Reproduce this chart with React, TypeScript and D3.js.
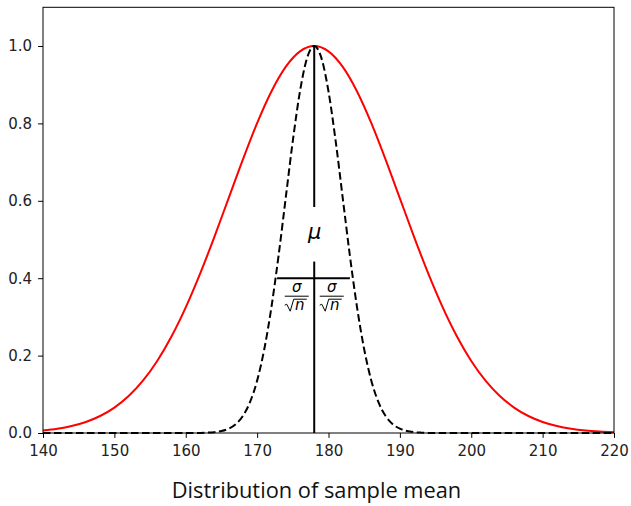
import React, { useEffect, useRef } from 'react';
import * as d3 from 'd3';

const X_TICKS = [140, 150, 160, 170, 180, 190, 200, 210, 220];
const Y_TICKS = [0.0, 0.2, 0.4, 0.6, 0.8, 1.0];

// population curve (red)
const POP_X = [
  140, 142, 144, 146, 148, 150, 152, 154, 156, 158, 160, 162, 164, 166, 168, 170, 172, 174, 176, 178,
  180, 182, 184, 186, 188, 190, 192, 194, 196, 198, 200, 202, 204, 206, 208, 210, 212, 214, 216, 218, 220,
];
const POP_Y = [
  0.0066, 0.0111, 0.0181, 0.0286, 0.0439, 0.0657, 0.0956, 0.1353, 0.1862, 0.2494, 0.3247, 0.4111, 0.5063,
  0.6065, 0.7066, 0.8007, 0.8825, 0.946, 0.9862, 1.0, 0.9862, 0.946, 0.8825, 0.8007, 0.7066, 0.6065, 0.5063,
  0.4111, 0.3247, 0.2494, 0.1862, 0.1353, 0.0956, 0.0657, 0.0439, 0.0286, 0.0181, 0.0111, 0.0066, 0.0039, 0.0022,
];

// sample mean curve (dashed)
const SAMPLE_X = [
  140, 150, 160, 162, 163, 164, 165, 166, 167, 168, 169, 170, 171, 172, 173, 174, 175, 176, 177, 178,
  179, 180, 181, 182, 183, 184, 185, 186, 187, 188, 189, 190, 191, 192, 193, 194, 196, 210, 220,
];
const SAMPLE_Y = [
  0, 0, 0, 0.0003, 0.0009, 0.0022, 0.0051, 0.0111, 0.0228, 0.0439, 0.0796, 0.1353, 0.2163, 0.3247, 0.4578,
  0.6065, 0.7548, 0.8825, 0.9692, 1.0, 0.9692, 0.8825, 0.7548, 0.6065, 0.4578, 0.3247, 0.2163, 0.1353,
  0.0796, 0.0439, 0.0228, 0.0111, 0.0051, 0.0022, 0.0009, 0.0003, 0, 0, 0,
];

const MU = 178;
const MU_LOWER = [0, 0.443];
const MU_UPPER = [0.584, 1.0];
const SE_SPAN = [172.8, 183.0];
const SE_Y = 0.4;

export default function App() {
  const ref = useRef<SVGSVGElement>(null);

  useEffect(() => {
    document.body.style.margin = '0';
    const svg = d3.select(ref.current);
    svg.selectAll('*').remove();

    const W = 631;
    const H = 506;
    const margin = { left: 43, right: 17, top: 7.3, bottom: 73 };

    const x = d3.scaleLinear().domain([140, 220]).range([margin.left, W - margin.right]);
    const y = d3.scaleLinear().domain([0, 1.1]).range([H - margin.bottom, margin.top]);

    const font = 'DejaVu Sans, sans-serif';

    const line = d3
      .line<number>()
      .x((d) => x(d))
      .curve(d3.curveMonotoneX);

    svg
      .append('path')
      .attr('d', line.y((_, i) => y(POP_Y[i]))(POP_X))
      .attr('fill', 'none')
      .attr('stroke', '#ff0000')
      .attr('stroke-width', 2);

    svg
      .append('path')
      .attr('d', line.y((_, i) => y(SAMPLE_Y[i]))(SAMPLE_X))
      .attr('fill', 'none')
      .attr('stroke', '#000')
      .attr('stroke-width', 2)
      .attr('stroke-dasharray', '7.5,3.5');

    // mean line (split around the label)
    [MU_LOWER, MU_UPPER].forEach((seg) => {
      svg
        .append('line')
        .attr('x1', x(MU))
        .attr('x2', x(MU))
        .attr('y1', y(seg[0]))
        .attr('y2', y(seg[1]))
        .attr('stroke', '#000')
        .attr('stroke-width', 2);
    });

    svg
      .append('line')
      .attr('x1', x(SE_SPAN[0]))
      .attr('x2', x(SE_SPAN[1]))
      .attr('y1', y(SE_Y))
      .attr('y2', y(SE_Y))
      .attr('stroke', '#000')
      .attr('stroke-width', 2);

    svg
      .append('text')
      .attr('x', x(MU) + 0.5)
      .attr('y', y(0.5) - 0.5)
      .attr('text-anchor', 'middle')
      .attr('font-family', font)
      .attr('font-style', 'italic')
      .attr('font-size', '21px')
      .attr('fill', '#000')
      .text('μ');

    // sigma / sqrt(n) fractions on both sides
    [-1, 1].forEach((side) => {
      const cx = x(MU) + side * 17.5;
      const barY = y(SE_Y) + 18;
      const g = svg.append('g').attr('transform', `translate(${cx},${barY})`);
      g.append('text')
        .attr('x', 0)
        .attr('y', -4)
        .attr('text-anchor', 'middle')
        .attr('font-family', font)
        .attr('font-style', 'italic')
        .attr('font-size', '15px')
        .text('σ');
      g.append('line')
        .attr('x1', -12)
        .attr('x2', 12)
        .attr('y1', 0)
        .attr('y2', 0)
        .attr('stroke', '#000')
        .attr('stroke-width', 1);
      g.append('path')
        .attr('d', 'M-12,9 L-10,8 L-6.5,15 L-3,3 L10,3')
        .attr('fill', 'none')
        .attr('stroke', '#000')
        .attr('stroke-width', 1);
      g.append('text')
        .attr('x', 3)
        .attr('y', 14)
        .attr('text-anchor', 'middle')
        .attr('font-family', font)
        .attr('font-style', 'italic')
        .attr('font-size', '15px')
        .text('n');
    });

    // frame
    svg
      .append('rect')
      .attr('x', margin.left)
      .attr('y', margin.top)
      .attr('width', W - margin.left - margin.right)
      .attr('height', H - margin.top - margin.bottom)
      .attr('fill', 'none')
      .attr('stroke', '#000')
      .attr('stroke-width', 1);

    const xAxis = svg
      .append('g')
      .attr('transform', `translate(0,${H - margin.bottom})`)
      .call(d3.axisBottom(x).tickValues(X_TICKS).tickSize(4.9).tickPadding(7).tickFormat(d3.format('d')));
    const yAxis = svg
      .append('g')
      .attr('transform', `translate(${margin.left},0)`)
      .call(d3.axisLeft(y).tickValues(Y_TICKS).tickSize(4.9).tickPadding(6).tickFormat(d3.format('.1f')));

    [xAxis, yAxis].forEach((a) => {
      a.select('.domain').remove();
      a.selectAll('.tick line').attr('stroke', '#000').attr('stroke-width', 1);
      a.selectAll('.tick text')
        .attr('fill', '#222')
        .attr('font-size', '15px')
        .attr('font-family', font);
    });

    svg
      .append('text')
      .attr('x', 316.5)
      .attr('y', 498)
      .attr('text-anchor', 'middle')
      .attr('font-family', 'Open Sans, sans-serif')
      .attr('font-size', '21.8px')
      .attr('fill', '#111')
      .text('Distribution of sample mean');
  }, []);

  return <svg ref={ref} width={631} height={506} style={{ display: 'block', background: '#fff' }} />;
}
